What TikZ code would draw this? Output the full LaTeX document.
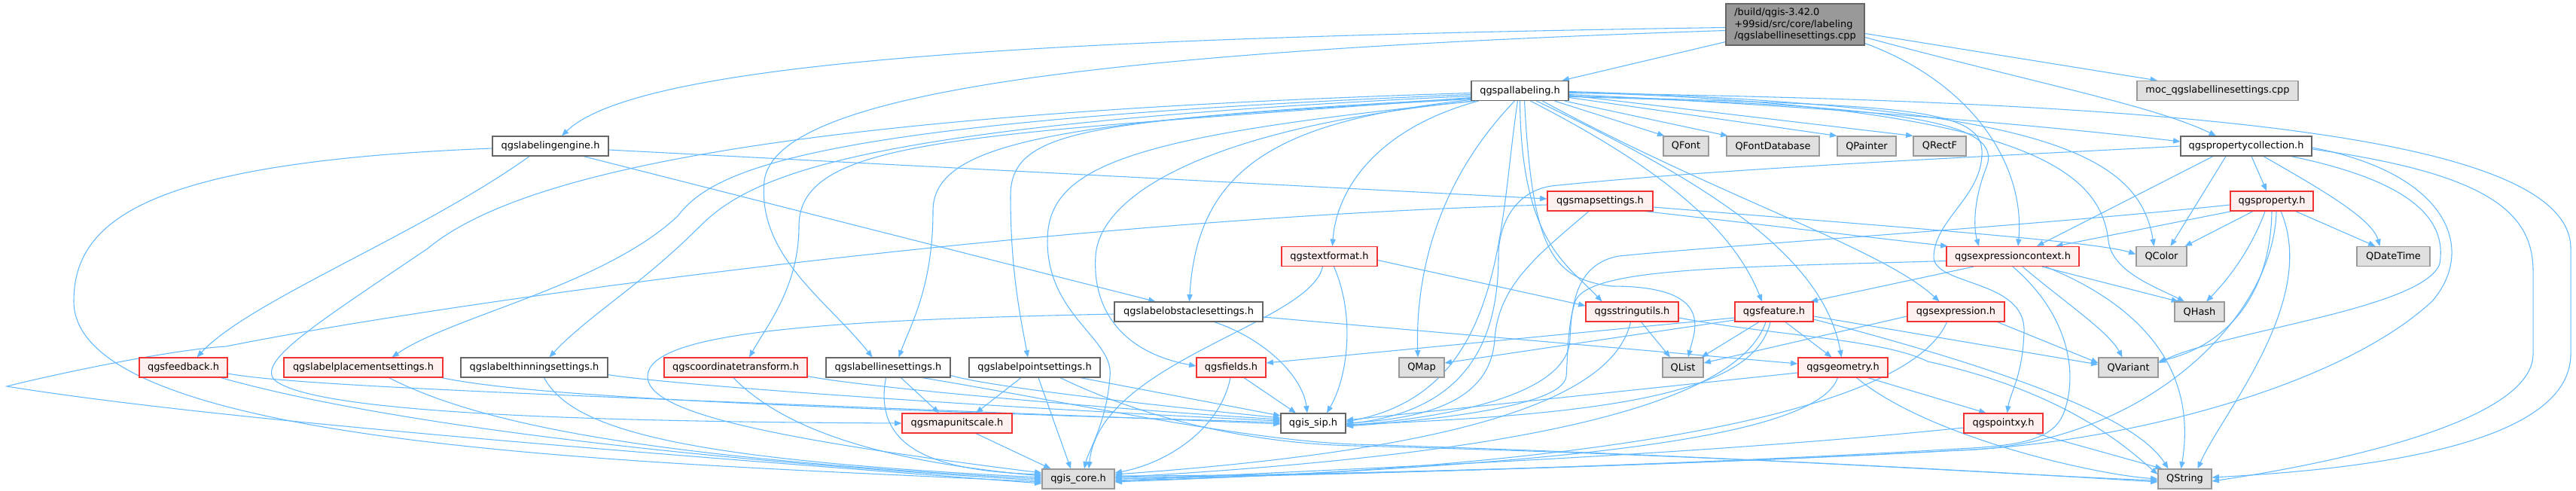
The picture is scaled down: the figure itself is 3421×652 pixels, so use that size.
\documentclass[tikz,border=0pt]{standalone}
\usepackage{fontspec}
\setmainfont{DejaVu Sans}
\usetikzlibrary{arrows.meta,calc,backgrounds}
\definecolor{edgec}{RGB}{99,184,255}
\definecolor{redb}{RGB}{240,50,50}
\definecolor{redf}{HTML}{FFF0F0}
\definecolor{grayf}{HTML}{E0E0E0}
\definecolor{grayb}{HTML}{999999}
\definecolor{darkb}{HTML}{666666}
\definecolor{topf}{HTML}{999999}
\begin{document}
\begin{tikzpicture}[x=0.75pt,y=-0.75pt,
  nd/.style={draw, rectangle, inner sep=0pt, minimum height=19.5pt, font=\fontsize{9.7}{11.6}\selectfont, line width=0.9pt},
  bw/.style={minimum width=#1*0.75pt},
  wn/.style={nd, fill=white, draw=darkb},
  rn/.style={nd, fill=redf, draw=redb},
  gn/.style={nd, fill=grayf, draw=grayb},
  tn/.style={nd, fill=topf, draw=darkb, align=left, minimum height=41.25pt, font=\fontsize{9.7}{11.4}\selectfont},
  ed/.style={draw=edgec, line width=0.8pt, -{Triangle[length=7pt,width=5.5pt]}}]
\useasboundingbox (0,0) rectangle (3421,652);

\node[tn,bw=184] (T) at (2384,32.5) {/build/qgis-3.42.0\\+99sid/src/core/labeling\\/qgslabellinesettings.cpp};
\node[wn,bw=129] (PAL) at (2018.5,120.5) {qgspallabeling.h};
\node[gn,bw=214] (MOC) at (2945,120.5) {moc\_qgslabellinesettings.cpp};
\node[wn,bw=154] (LE) at (731,194) {qgslabelingengine.h};
\node[gn,bw=60] (QF) at (2239,194) {QFont};
\node[gn,bw=123] (QFD) at (2354.5,194) {QFontDatabase};
\node[gn,bw=78] (QP) at (2479,194) {QPainter};
\node[gn,bw=70] (QR) at (2576,194) {QRectF};
\node[wn,bw=174] (PC) at (2983,194) {qgspropertycollection.h};
\node[rn,bw=140] (MS) at (2125,267) {qgsmapsettings.h};
\node[rn,bw=110] (PR) at (3017,267) {qgsproperty.h};
\node[rn,bw=127] (TF) at (1765.5,340.5) {qgstextformat.h};
\node[rn,bw=176] (EC) at (2673,340.5) {qgsexpressioncontext.h};
\node[gn,bw=67] (QC) at (2870.5,340.5) {QColor};
\node[gn,bw=97] (QDT) at (3178.5,340.5) {QDateTime};
\node[wn,bw=197] (LOS) at (1578.5,414) {qgslabelobstaclesettings.h};
\node[rn,bw=123] (SU) at (2167.5,414) {qgsstringutils.h};
\node[rn,bw=104] (FE) at (2356,414) {qgsfeature.h};
\node[rn,bw=129] (EX) at (2597.5,414) {qgsexpression.h};
\node[gn,bw=66] (QH) at (2921,414) {QHash};
\node[rn,bw=117] (FB) at (243.5,488) {qgsfeedback.h};
\node[rn,bw=211] (LPS) at (482.5,488) {qgslabelplacementsettings.h};
\node[wn,bw=195] (LTS) at (709.5,488) {qgslabelthinningsettings.h};
\node[rn,bw=190] (CT) at (977,488) {qgscoordinatetransform.h};
\node[wn,bw=165] (LLS) at (1179.5,488) {qgslabellinesettings.h};
\node[wn,bw=174] (LPT) at (1374,488) {qgslabelpointsettings.h};
\node[rn,bw=92] (FI) at (1635,488) {qgsfields.h};
\node[gn,bw=60] (QM) at (1888,488) {QMap};
\node[gn,bw=54] (QL) at (2235,488) {QList};
\node[rn,bw=119] (GE) at (2447.5,488) {qgsgeometry.h};
\node[gn,bw=79] (QV) at (2826.5,488) {QVariant};
\node[rn,bw=146] (MUS) at (1271,562) {qgsmapunitscale.h};
\node[wn,bw=86] (SIP) at (1744,562) {qgis\_sip.h};
\node[rn,bw=105] (PXY) at (2660.5,562) {qgspointxy.h};
\node[gn,bw=96] (CORE) at (1432,636) {qgis\_core.h};
\node[gn,bw=71] (QS) at (2901.5,636) {QString};

\begin{scope}[on background layer]
% top node
\draw[ed] ($(T.west)+(0,4)$) .. controls (1400,50) and (850,80) .. ($(LE.north)+(15,0)$);
\draw[ed] ($(T.west)+(0,8)$) .. controls (1400,70) and (1030,130) .. (1015,240) .. controls (1005,340) and (1100,400) .. ($(LLS.north)+(-21,0)$);
\draw[ed] ($(T.south west)+(0,-5)$) -- ($(PAL.north)+(56,0)$);
\draw[ed] ($(T.east)+(0,12)$) -- ($(MOC.north)+(-80,0)$);
\draw[ed] ($(T.east)+(0,17)$) .. controls (2700,110) and (2860,140) .. ($(PC.north)+(-40,0)$);
\draw[ed] ($(T.east)+(0,25)$) .. controls (2620,110) and (2690,220) .. ($(EC.north)+(7,0)$);
% labelingengine
\draw[ed] ($(LE.west)+(0,3)$) .. controls (200,215) and (98,290) .. (98,400) .. controls (98,600) and (900,615) .. ($(CORE.west)+(0,4)$);
\draw[ed] ($(LE.south)+(-28,0)$) .. controls (560,310) and (330,400) .. ($(FB.north)+(18,0)$);
\draw[ed] ($(LE.east)+(0,5)$) -- ($(MS.west)+(0,-3)$);
\draw[ed] ($(LE.south)+(44,0)$) -- ($(LOS.north)+(-44,0)$);
% pallabeling
\draw[ed] ($(PAL.south)+(-55,0)$) .. controls (1830,170) and (1775,250) .. ($(TF.north)+(4,0)$);
\draw[ed] ($(PAL.south)+(-7,0)$) .. controls (1900,250) and (1880,380) .. ($(QM.north)+(-5,0)$);
\draw[ed] ($(PAL.south)+(-3,0)$) .. controls (1990,300) and (2000,520) .. ($(SIP.east)+(0,-2)$);
\draw[ed] ($(PAL.south)+(0,0)$) .. controls (2020,320) and (2080,350) .. ($(SU.north)+(-40,0)$);
\draw[ed] ($(PAL.south)+(6,0)$) .. controls (2035,330) and (2060,370) .. (2140,380) .. controls (2280,380) and (2250,440) .. ($(QL.north)+(7,0)$);
\draw[ed] ($(PAL.south)+(14,0)$) .. controls (2200,220) and (2300,300) .. ($(FE.north)+(-16,0)$);
\draw[ed] ($(PAL.south)+(22,0)$) .. controls (2240,230) and (2420,330) .. ($(GE.north)+(-2,0)$);
\draw[ed] ($(PAL.south)+(30,0)$) .. controls (2280,260) and (2500,330) .. ($(EX.north)+(-22,0)$);
\draw[ed] ($(PAL.south)+(46,0)$) -- ($(QF.north west)+(2,0)$);
\draw[ed] ($(PAL.south east)+(-6,0)$) -- ($(QFD.north west)+(2,0)$);
\draw[ed] ($(PAL.east)+(0,9)$) -- ($(QP.north west)+(0,0)$);
\draw[ed] ($(PAL.east)+(0,6)$) -- ($(QR.north west)+(0,0)$);
\draw[ed] ($(PAL.east)+(0,3)$) .. controls (2900,135) and (3414,180) .. (3414,330) -- (3414,470) .. controls (3414,600) and (3100,625) .. ($(QS.east)+(0,-2)$);
\draw[ed] ($(PAL.east)+(0,7)$) .. controls (2500,140) and (2630,140) .. (2632,200) .. controls (2634,260) and (2570,290) .. (2568,340) .. controls (2566,380) and (2690,370) .. (2688,440) .. controls (2686,500) and (2670,520) .. ($(PXY.north)+(5,0)$);
\draw[ed] ($(PAL.east)+(0,5)$) .. controls (2400,140) and (2700,165) .. ($(PC.west)+(0,-6)$);
\draw[ed] ($(PAL.east)+(0,1)$) .. controls (2700,140) and (2840,200) .. ($(QC.north)+(-10,0)$);
\draw[ed] ($(PAL.east)+(0,2)$) .. controls (2700,140) and (2790,230) .. (2800,320) .. controls (2805,360) and (2860,380) .. ($(QH.north)+(-20,0)$);
\draw[ed] ($(PAL.east)+(0,8)$) .. controls (2550,140) and (2660,165) .. (2638,222) .. controls (2622,262) and (2620,300) .. ($(EC.north)+(-45,0)$);
\draw[ed] ($(PAL.west)+(0,3)$) .. controls (1100,150) and (700,220) .. (568,330) .. controls (420,430) and (340,480) .. (365,505) .. controls (420,550) and (800,560) .. ($(MUS.west)+(0,0)$);
\draw[ed] ($(PAL.west)+(0,5)$) .. controls (1100,160) and (950,220) .. (900,287) .. controls (800,380) and (600,420) .. ($(LPS.north)+(38,0)$);
\draw[ed] ($(PAL.west)+(0,7)$) .. controls (1150,165) and (1000,230) .. (930,300) .. controls (850,380) and (780,420) .. ($(LTS.north)+(20,0)$);
\draw[ed] ($(PAL.west)+(0,9)$) .. controls (1300,180) and (1061,180) .. (1061,300) .. controls (1061,380) and (1020,430) .. ($(CT.north)+(18,0)$);
\draw[ed] ($(PAL.west)+(0,10)$) .. controls (1400,160) and (1239,190) .. (1239,280) .. controls (1239,380) and (1210,430) .. ($(LLS.north)+(14,0)$);
\draw[ed] ($(PAL.west)+(0,11)$) .. controls (1450,160) and (1342,170) .. (1342,260) .. controls (1342,360) and (1355,420) .. ($(LPT.north)+(-9,0)$);
\draw[ed] ($(PAL.west)+(0,12)$) .. controls (1700,160) and (1590,220) .. ($(LOS.north)+(1,0)$);
\draw[ed] ($(PAL.south west)+(4,0)$) .. controls (1600,170) and (1460,260) .. (1455,340) .. controls (1450,420) and (1500,470) .. ($(FI.west)+(0,-2)$);
\draw[ed] ($(PAL.south west)+(6,0)$) .. controls (1500,180) and (1391,220) .. (1391,320) .. controls (1391,420) and (1480,450) .. (1474,500) .. controls (1470,560) and (1445,600) .. ($(CORE.north)+(8,0)$);
% textformat
\draw[ed] ($(TF.east)+(0,5)$) -- ($(SU.west)+(0,-8)$);
\draw[ed] ($(TF.south)+(-9,0)$) .. controls (1740,430) and (1460,480) .. ($(CORE.north)+(14,0)$);
\draw[ed] ($(TF.south)+(6,0)$) .. controls (1800,420) and (1790,500) .. ($(SIP.north)+(18,0)$);
% mapsettings
\draw[ed] ($(MS.west)+(0,5)$) .. controls (1400,290) and (600,400) .. (300,460) .. controls (220,465) and (60,500) .. (9,513) .. controls (300,560) and (900,605) .. ($(CORE.west)+(0,6)$);
\draw[ed] ($(MS.south)+(-15,0)$) .. controls (2040,340) and (1990,380) .. (1985,450) .. controls (1980,530) and (1900,555) .. ($(SIP.east)+(0,0)$);
\draw[ed] ($(MS.south)+(60,0)$) -- ($(EC.north west)+(2,0)$);
\draw[ed] ($(MS.east)+(0,8)$) .. controls (2500,300) and (2780,320) .. ($(QC.west)+(0,-3)$);
% expressioncontext
\draw[ed] ($(EC.south)+(-52,0)$) -- ($(FE.north east)+(-4,0)$);
\draw[ed] ($(EC.west)+(0,6)$) .. controls (2300,355) and (2110,355) .. (2092,400) .. controls (2082,430) and (2082,470) .. (2080,500) .. controls (2075,540) and (1900,558) .. ($(SIP.east)+(0,4)$);
\draw[ed] ($(EC.south east)+(-50,0)$) -- ($(QH.north)+(-28,0)$);
\draw[ed] ($(EC.south)+(13,0)$) .. controls (2740,400) and (2800,440) .. ($(QV.north)+(-8,0)$);
\draw[ed] ($(EC.south east)+(-45,0)$) .. controls (2830,400) and (2920,480) .. ($(QS.north)+(-5,0)$);
\draw[ed] ($(EC.south)+(0,0)$) .. controls (2750,420) and (2760,500) .. (2740,550) .. controls (2725,585) and (2680,592) .. (2600,596) .. controls (2200,620) and (1700,632) .. ($(CORE.east)+(0,0)$);
% expression
\draw[ed] ($(EX.west)+(0,6)$) -- ($(QL.east)+(0,-6)$);
\draw[ed] ($(EX.south)+(-12,0)$) .. controls (2520,580) and (1900,630) .. ($(CORE.east)+(0,2)$);
\draw[ed] ($(EX.south east)+(-10,0)$) -- ($(QV.west)+(0,-6)$);
% feature
\draw[ed] ($(FE.west)+(0,8)$) -- ($(FI.east)+(0,-6)$);
\draw[ed] ($(FE.west)+(0,11)$) -- ($(QM.east)+(0,-6)$);
\draw[ed] ($(FE.south)+(-20,0)$) -- ($(QL.north east)+(-3,0)$);
\draw[ed] ($(FE.south)+(15,0)$) -- ($(GE.north)+(-15,0)$);
\draw[ed] ($(FE.south)+(-5,0)$) .. controls (2330,520) and (2150,550) .. ($(SIP.east)+(0,2)$);
\draw[ed] ($(FE.south)+(-11,0)$) .. controls (2300,560) and (1900,610) .. ($(CORE.east)+(0,-2)$);
\draw[ed] ($(FE.east)+(0,6)$) -- ($(QV.west)+(0,-4)$);
\draw[ed] ($(FE.east)+(0,10)$) .. controls (2700,500) and (2840,560) .. ($(QS.north)+(-22,0)$);
% geometry
\draw[ed] ($(GE.west)+(0,7)$) -- ($(SIP.east)+(0,-4)$);
\draw[ed] ($(GE.south)+(-7,0)$) .. controls (2410,590) and (2000,620) .. ($(CORE.east)+(0,4)$);
\draw[ed] ($(GE.south east)+(-27,0)$) -- ($(PXY.north)+(-23,0)$);
\draw[ed] ($(GE.south)+(18,0)$) .. controls (2560,580) and (2780,630) .. ($(QS.west)+(0,0)$);
% pointxy
\draw[ed] ($(PXY.west)+(0,6)$) .. controls (2200,610) and (1700,625) .. ($(CORE.east)+(0,3)$);
\draw[ed] ($(PXY.south east)+(-10,0)$) -- ($(QS.north)+(-30,0)$);
% fields
\draw[ed] ($(FI.south)+(17,0)$) -- ($(SIP.north)+(-23,0)$);
\draw[ed] ($(FI.south)+(-1,0)$) .. controls (1620,570) and (1550,615) .. ($(CORE.east)+(0,-8)$);
% stringutils
\draw[ed] ($(SU.south)+(12,0)$) -- ($(QL.north)+(-17,0)$);
\draw[ed] ($(SU.south)+(-2,0)$) .. controls (2140,540) and (1900,600) .. ($(CORE.east)+(0,-6)$);
\draw[ed] ($(SU.east)+(0,8)$) .. controls (2350,445) and (2500,450) .. (2560,480) .. controls (2740,520) and (2820,590) .. ($(QS.west)+(0,-6)$);
% mapunitscale
\draw[ed] ($(MUS.south)+(25,0)$) -- ($(CORE.north west)+(12,0)$);
% labellinesettings
\draw[ed] ($(LLS.south)+(-3,0)$) .. controls (1160,590) and (1230,625) .. ($(CORE.west)+(0,-6)$);
\draw[ed] ($(LLS.south)+(17,0)$) -- ($(MUS.north)+(-24,0)$);
\draw[ed] ($(LLS.south)+(45,0)$) .. controls (1400,530) and (1650,585) .. (1800,590) .. controls (2300,605) and (2700,632) .. ($(QS.west)+(0,2)$);
\draw[ed] ($(LLS.south east)+(0,-3)$) .. controls (1320,515) and (1550,540) .. ($(SIP.west)+(0,-7)$);
% labelpointsettings
\draw[ed] ($(LPT.south)+(-18,0)$) -- ($(MUS.north)+(25,0)$);
\draw[ed] ($(LPT.south)+(5,0)$) -- ($(CORE.north)+(-10,0)$);
\draw[ed] ($(LPT.south)+(34,0)$) .. controls (1550,570) and (1700,590) .. (1800,592) .. controls (2300,605) and (2700,630) .. ($(QS.west)+(0,4)$);
\draw[ed] ($(LPT.south east)+(-27,0)$) -- ($(SIP.west)+(0,-10)$);
% labelobstaclesettings
\draw[ed] ($(LOS.west)+(0,3)$) .. controls (1100,425) and (860,440) .. (860,500) .. controls (860,545) and (1000,580) .. ($(CORE.west)+(0,-8)$);
\draw[ed] ($(LOS.south)+(34,0)$) .. controls (1680,450) and (1730,500) .. ($(SIP.north)+(-8,0)$);
\draw[ed] ($(LOS.east)+(0,7)$) -- ($(GE.west)+(0,-5)$);
% coordinatetransform
\draw[ed] ($(CT.south)+(-3,0)$) .. controls (1050,580) and (1200,615) .. ($(CORE.west)+(0,-4)$);
\draw[ed] ($(CT.south east)+(0,-2)$) .. controls (1150,515) and (1500,545) .. ($(SIP.west)+(0,-5)$);
% labelthinningsettings
\draw[ed] ($(LTS.south)+(13,0)$) .. controls (760,570) and (900,610) .. ($(CORE.west)+(0,-2)$);
\draw[ed] ($(LTS.south east)+(0,-4)$) .. controls (900,512) and (1300,540) .. ($(SIP.west)+(0,-3)$);
% labelplacementsettings
\draw[ed] ($(LPS.south)+(34,0)$) .. controls (650,570) and (900,610) .. ($(CORE.west)+(0,0)$);
\draw[ed] ($(LPS.south east)+(-2,0)$) .. controls (700,525) and (1000,540) .. ($(SIP.west)+(0,-1)$);
% feedback
\draw[ed] ($(FB.east)+(0,8)$) .. controls (400,515) and (900,530) .. ($(SIP.west)+(0,1)$);
\draw[ed] ($(FB.south)+(50,0)$) .. controls (500,560) and (900,610) .. ($(CORE.west)+(0,2)$);
% propertycollection
\draw[ed] ($(PC.west)+(0,0)$) .. controls (2700,205) and (2300,222) .. (2060,247) .. controls (2010,255) and (1990,300) .. (1990,340) .. controls (1990,450) and (1950,545) .. ($(SIP.east)+(0,1)$);
\draw[ed] ($(PC.south)+(-44,0)$) -- ($(EC.north)+(32,0)$);
\draw[ed] ($(PC.south)+(-27,0)$) -- ($(QC.north)+(12,0)$);
\draw[ed] ($(PC.south)+(7,0)$) -- ($(PR.north)+(-7,0)$);
\draw[ed] ($(PC.south)+(23,0)$) .. controls (3080,250) and (3150,290) .. ($(QDT.north)+(-18,0)$);
\draw[ed] ($(PC.south east)+(-28,0)$) .. controls (3200,240) and (3250,290) .. (3240,350) .. controls (3220,410) and (2950,440) .. ($(QV.east)+(0,-6)$);
\draw[ed] ($(PC.east)+(0,2)$) .. controls (3250,230) and (3290,330) .. (3230,400) .. controls (3100,520) and (2800,590) .. (2600,598) .. controls (2200,620) and (1700,632) .. ($(CORE.east)+(0,-4)$);
\draw[ed] ($(PC.east)+(0,4)$) .. controls (3300,230) and (3364,280) .. (3364,360) -- (3364,470) .. controls (3364,560) and (3100,615) .. ($(QS.east)+(0,3)$);
% property
\draw[ed] ($(PR.west)+(0,5)$) .. controls (2700,300) and (2300,325) .. (2150,340) .. controls (2095,350) and (2087,400) .. (2085,450) .. controls (2083,530) and (1900,556) .. ($(SIP.east)+(0,3)$);
\draw[ed] ($(PR.south west)+(2,0)$) -- ($(EC.north)+(57,0)$);
\draw[ed] ($(PR.south)+(-25,0)$) -- ($(QC.north east)+(-3,0)$);
\draw[ed] ($(PR.south)+(-9,0)$) .. controls (2990,330) and (2960,370) .. ($(QH.north)+(9,0)$);
\draw[ed] ($(PR.south)+(0,0)$) .. controls (3015,400) and (2950,460) .. ($(QV.east)+(0,-8)$);
\draw[ed] ($(PR.south)+(6,0)$) .. controls (3020,420) and (2850,592) .. (2600,598) .. controls (2200,620) and (1700,632) .. ($(CORE.east)+(0,-2)$);
\draw[ed] ($(PR.south)+(12,0)$) .. controls (3080,400) and (2950,550) .. ($(QS.north)+(17,0)$);
\draw[ed] ($(PR.south east)+(-24,0)$) -- ($(QDT.north)+(-24,0)$);
\end{scope}
\end{tikzpicture}
\end{document}
